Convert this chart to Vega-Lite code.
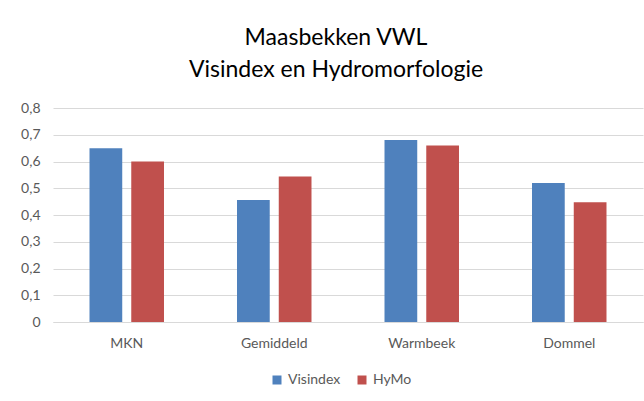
{
  "$schema": "https://vega.github.io/schema/vega-lite/v6.json",
  "width": 590,
  "height": 214,
  "autosize": {"type": "none"},
  "padding": {"left": 53, "top": 108, "right": 1, "bottom": 79},
  "background": "white",
  "config": {
    "locale": {"number": {"decimal": ",", "thousands": ".", "grouping": [3], "currency": ["€", ""]}},
    "view": {"stroke": null},
    "font": "Lato"
  },
  "title": {
    "text": ["Maasbekken VWL", "Visindex en Hydromorfologie"],
    "font": "Lato",
    "fontSize": 23,
    "fontWeight": "normal",
    "color": "#000000",
    "anchor": "middle",
    "lineHeight": 32,
    "offset": 19,
    "dx": -12
  },
  "data": {
    "values": [
      {"category": "MKN", "series": "Visindex", "value": 0.65},
      {"category": "MKN", "series": "HyMo", "value": 0.6},
      {"category": "Gemiddeld", "series": "Visindex", "value": 0.456},
      {"category": "Gemiddeld", "series": "HyMo", "value": 0.544},
      {"category": "Warmbeek", "series": "Visindex", "value": 0.68},
      {"category": "Warmbeek", "series": "HyMo", "value": 0.66},
      {"category": "Dommel", "series": "Visindex", "value": 0.52},
      {"category": "Dommel", "series": "HyMo", "value": 0.448}
    ]
  },
  "mark": {"type": "bar"},
  "encoding": {
    "x": {
      "field": "category",
      "type": "nominal",
      "sort": ["MKN", "Gemiddeld", "Warmbeek", "Dommel"],
      "scale": {"paddingInner": 0.495, "paddingOuter": 0.2475},
      "axis": {
        "title": null,
        "labelAngle": 0,
        "labelFont": "Lato",
        "labelFontSize": 14,
        "labelColor": "#595959",
        "labelPadding": 14,
        "ticks": false,
        "domainColor": "#d9d9d9",
        "domainWidth": 1,
        "grid": false
      }
    },
    "xOffset": {
      "field": "series",
      "sort": ["Visindex", "HyMo"],
      "scale": {"paddingInner": 0.216, "paddingOuter": 0}
    },
    "y": {
      "field": "value",
      "type": "quantitative",
      "scale": {"domain": [0, 0.8], "nice": false},
      "axis": {
        "title": null,
        "values": [0, 0.1, 0.2, 0.3, 0.4, 0.5, 0.6, 0.7, 0.8],
        "format": ".1~f",
        "labelFont": "Lato",
        "labelFontSize": 14,
        "labelColor": "#595959",
        "labelPadding": 13,
        "ticks": false,
        "domain": false,
        "gridColor": "#d9d9d9",
        "gridWidth": 1
      }
    },
    "color": {
      "field": "series",
      "type": "nominal",
      "sort": ["Visindex", "HyMo"],
      "scale": {"domain": ["Visindex", "HyMo"], "range": ["#4f81bd", "#c0504d"]},
      "legend": {
        "title": null,
        "orient": "none",
        "legendX": 217,
        "legendY": 265,
        "direction": "horizontal",
        "symbolType": "square",
        "symbolSize": 81,
        "symbolStrokeWidth": 0,
        "labelFont": "Lato",
        "labelFontSize": 14,
        "labelColor": "#595959",
        "labelOffset": 4,
        "columnPadding": 14
      }
    }
  }
}
